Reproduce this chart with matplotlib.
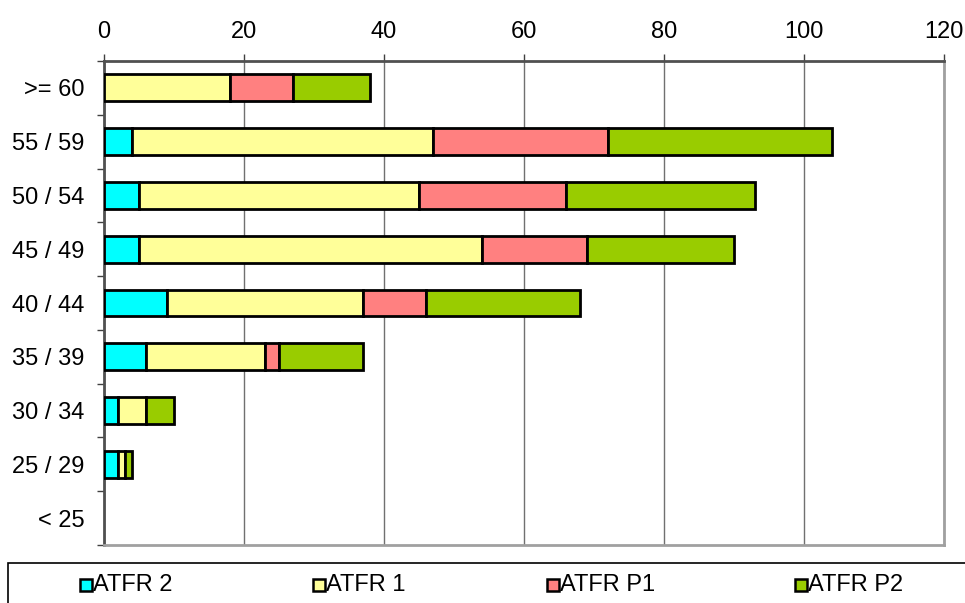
import matplotlib
matplotlib.use("Agg")
import matplotlib.pyplot as plt
from matplotlib.patches import Rectangle
import numpy as np

categories = [">= 60", "55 / 59", "50 / 54", "45 / 49", "40 / 44", "35 / 39", "30 / 34", "25 / 29", "< 25"]
series_names = ["ATFR 2", "ATFR 1", "ATFR P1", "ATFR P2"]
atfr2 = [0, 4, 5, 5, 9, 6, 2, 2, 0]
atfr1 = [18, 43, 40, 49, 28, 17, 4, 1, 0]
atfrp1 = [9, 25, 21, 15, 9, 2, 0, 0, 0]
atfrp2 = [11, 32, 27, 21, 22, 12, 4, 1, 0]
x_ticks = [0, 20, 40, 60, 80, 100, 120]
colors = ["#00FFFF", "#FFFF99", "#FF8080", "#99CC00"]

plt.rcParams['font.family'] = ['Liberation Sans', 'DejaVu Sans']

W, H = 965, 603
fig = plt.figure(figsize=(W / 100, H / 100), dpi=100)
ax = fig.add_axes([104 / W, 1 - 545 / H, (944 - 104) / W, (545 - 61) / H])

y = np.arange(len(categories))
left = np.zeros(len(categories))
for vals, name, c in zip([atfr2, atfr1, atfrp1, atfrp2], series_names, colors):
    vals = np.array(vals, dtype=float)
    mask = vals > 0
    ax.barh(y[mask], vals[mask], left=left[mask], height=0.5, color=c,
            edgecolor="black", linewidth=2.0, label=name, zorder=3)
    left += vals

ax.set_xlim(0, 120)
ax.set_ylim(len(categories) - 0.5, -0.5)
ax.set_xticks(x_ticks)
ax.xaxis.tick_top()
ax.tick_params(axis='x', direction='out', length=5, width=1, color='#404040',
               labelsize=17, pad=8)
ax.set_yticks(y)
ax.set_yticklabels(categories)
ax.set_yticks(np.arange(-0.5, len(categories), 1.0), minor=True)
ax.tick_params(axis='y', which='major', length=0, labelsize=17, pad=14)
ax.tick_params(axis='y', which='minor', direction='out', length=5, width=1, color='#404040')
ax.grid(axis='x', color='#707070', linewidth=1, zorder=0)
ax.set_axisbelow(True)

for s in ['top', 'left']:
    ax.spines[s].set_color('#505050')
    ax.spines[s].set_linewidth(2)
for s in ['right', 'bottom']:
    ax.spines[s].set_color('#a0a0a0')
    ax.spines[s].set_linewidth(2)

# legend frame
fig.patches.append(Rectangle((8 / W, -0.01), 1.0, (603 - 563) / H + 0.01,
                             transform=fig.transFigure, facecolor='white',
                             edgecolor='black', linewidth=1.2))
leg_x = [80, 313, 547, 795]
ly = 585
sq = 12
for xp, name, c in zip(leg_x, series_names, colors):
    fig.patches.append(Rectangle((xp / W, 1 - (ly + sq / 2) / H), sq / W, sq / H,
                                 transform=fig.transFigure, facecolor=c,
                                 edgecolor='black', linewidth=1.8))
    fig.text((xp + sq + 1) / W, 1 - ly / H, name, fontsize=17,
             va='center', ha='left')

fig.savefig("out.png", dpi=100)
